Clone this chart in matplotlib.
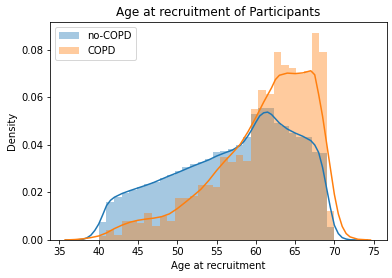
#!/usr/bin/env python3
"""
Age at recruitment of participants: density histograms with KDE, COPD vs no-COPD
"""

import numpy as np
import matplotlib
matplotlib.use('Agg')
import matplotlib.pyplot as plt

# histogram: 31 bins between 40 and 70 (one integer age per bin)
ages = list(range(40, 71))
no_copd_density = [0.0077, 0.0160, 0.0180, 0.0198, 0.0212, 0.0224, 0.0235, 0.0246,
                   0.0262, 0.0275, 0.0290, 0.0306, 0.0318, 0.0330, 0.0340, 0.0371,
                   0.0376, 0.0382, 0.0400, 0.0435, 0.0530, 0.0555, 0.0555, 0.0494,
                   0.0480, 0.0450, 0.0435, 0.0435, 0.0372, 0.0368, 0.0053]
copd_density = [0.0015, 0.0040, 0.0022, 0.0080, 0.0078, 0.0073, 0.0114, 0.0059,
                0.0101, 0.0080, 0.0175, 0.0176, 0.0186, 0.0230, 0.0232, 0.0222,
                0.0350, 0.0330, 0.0358, 0.0332, 0.0552, 0.0632, 0.0615, 0.0790,
                0.0736, 0.0725, 0.0698, 0.0712, 0.0872, 0.0791, 0.0123]

# kde curves
no_copd_kde_x = [35.8, 37, 38, 38.5, 39, 39.5, 40, 40.5, 41, 41.5, 42, 43, 44, 45, 46,
                 47, 48, 49, 50, 51, 52, 53, 54, 55, 56, 57, 58, 58.5, 59, 59.5, 60,
                 60.5, 61, 61.5, 62, 62.5, 63, 64, 65, 66, 67, 67.5, 68, 68.5, 69,
                 69.5, 70, 70.5, 71, 71.5, 72, 73, 74.2]
no_copd_kde_y = [0.0, 0.0, 0.0003, 0.0009, 0.0020, 0.0040, 0.0067, 0.0105, 0.0145,
                 0.0167, 0.0180, 0.0196, 0.0208, 0.0219, 0.0230, 0.0242, 0.0256,
                 0.0270, 0.0283, 0.0297, 0.0311, 0.0324, 0.0337, 0.0353, 0.0366,
                 0.0378, 0.0398, 0.0415, 0.0438, 0.0465, 0.0495, 0.0522, 0.0535,
                 0.0538, 0.0528, 0.0510, 0.0492, 0.0467, 0.0450, 0.0436, 0.0418,
                 0.0400, 0.0368, 0.0305, 0.0220, 0.0135, 0.0062, 0.0027, 0.0010,
                 0.0004, 0.0001, 0.0, 0.0]
copd_kde_x = [35.7, 37, 38, 39, 40, 41, 42, 43, 44, 45, 46, 47, 48, 49, 50, 51, 52,
              53, 54, 55, 56, 57, 58, 59, 60, 61, 62, 62.5, 63, 64, 65, 66, 67,
              67.5, 68, 68.5, 69, 69.5, 70, 70.5, 71, 71.5, 72, 73, 74, 74.6]
copd_kde_y = [0.0, 0.0002, 0.0005, 0.0010, 0.0017, 0.0030, 0.0048, 0.0063, 0.0075,
              0.0083, 0.0088, 0.0092, 0.0098, 0.0110, 0.0132, 0.0158, 0.0185,
              0.0213, 0.0250, 0.0292, 0.0330, 0.0365, 0.0402, 0.0455, 0.0515,
              0.0580, 0.0640, 0.0675, 0.0693, 0.0702, 0.0700, 0.0703, 0.0712,
              0.0695, 0.0612, 0.0520, 0.0410, 0.0300, 0.0192, 0.0110, 0.0057,
              0.0027, 0.0013, 0.0003, 0.0001, 0.0]


def plot_group(ax, density, kde_x, kde_y, color, label):
    """Draw one group as a density histogram plus its KDE line"""
    edges = np.linspace(min(ages), max(ages), len(ages) + 1)
    widths = np.diff(edges)
    ax.bar(edges[:-1], density, width=widths, align='edge', color=color,
           alpha=0.4, linewidth=0, label=label)
    ax.plot(kde_x, kde_y, color=color, linewidth=1.5)


fig = plt.figure(figsize=(392 / 72, 278 / 72), dpi=72)
ax = fig.add_axes([50 / 392, 38 / 278, 337 / 392, 218 / 278])

plot_group(ax, no_copd_density, no_copd_kde_x, no_copd_kde_y, '#1f77b4', 'no-COPD')
plot_group(ax, copd_density, copd_kde_x, copd_kde_y, '#ff7f0e', 'COPD')

ax.set_xlim(33.8, 76.7)
ax.set_ylim(0, 0.0917)
ax.set_xticks(range(35, 80, 5))
ax.set_yticks([0.0, 0.02, 0.04, 0.06, 0.08])
ax.set_xlabel('Age at recruitment')
ax.set_ylabel('Density')
ax.set_title('Age at recruitment of Participants', fontsize=12)
ax.legend(loc='upper left')

fig.savefig('out.png', dpi=72)
plt.close(fig)
